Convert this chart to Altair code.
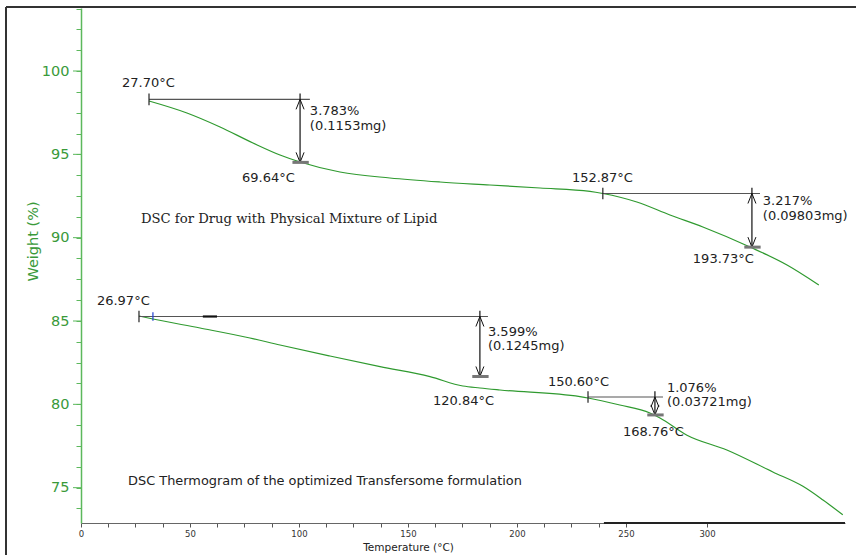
import altair as alt
import pandas as pd

# ---- data (x in plot units along the temperature axis, y = weight %) ----
upper_x = [31.2, 48.6, 63.8, 78.9, 91.3, 100.5, 118.8, 141.7, 164.7, 187.6,
           210.6, 233.5, 239.4, 255.0, 270.2, 285.3, 306.9, 323.9, 338.5]
upper_w = [98.20, 97.48, 96.64, 95.68, 94.96, 94.54, 93.94, 93.58, 93.34, 93.16,
           92.98, 92.78, 92.65, 92.14, 91.36, 90.64, 89.44, 88.36, 87.16]

lower_x = [26.6, 33.0, 54.6, 77.5, 91.3, 114.2, 137.2, 160.1, 175.2, 183.0,
           192.2, 228.9, 232.6, 247.2, 261.0, 265.6, 278.0, 296.3, 317.4,
           331.2, 340.4, 349.5]
lower_w = [85.30, 85.12, 84.58, 83.98, 83.56, 82.90, 82.26, 81.66, 81.10, 80.98,
           80.86, 80.46, 80.38, 79.96, 79.48, 79.18, 78.15, 77.26, 75.94,
           75.08, 74.26, 73.37]

# weight-loss steps: start of baseline, arrow position, level and stated loss
step_start = [31.2, 239.4, 26.6, 232.6]
step_end = [105.0, 311.5, 186.7, 267.0]
step_arrow_x = [100.5, 307.8, 183.0, 263.3]
step_level = [98.30, 92.65, 85.27, 80.44]
step_loss = [3.783, 3.217, 3.599, 1.076]
step_mass = ["(0.1153mg)", "(0.09803mg)", "(0.1245mg)", "(0.03721mg)"]
onset_text = ["27.70°C", "152.87°C", "26.97°C", "150.60°C"]
end_text = ["69.64°C", "193.73°C", "120.84°C", "168.76°C"]

# label anchors (left edge, vertical centre)
onset_pos = [(18.8, 99.28), (225.2, 93.58), (7.3, 86.20), (214.2, 81.34)]
end_pos = [(73.85, 93.58), (280.7, 88.72), (161.5, 80.20), (248.6, 78.34)]
loss_pos = [(105.0, 97.60, 96.72), (312.8, 92.18, 91.30),
            (186.7, 84.36, 83.48), (268.8, 81.00, 80.12)]

captions = ["DSC for Drug with Physical Mixture of Lipid",
            "DSC Thermogram of the optimized Transfersome formulation"]
caption_pos = [(27.5, 91.12), (21.6, 75.40)]

x_ticks = [i * 12.5 for i in range(20)] + [250.0, 287.2]
y_ticks = [73.75 + i * 1.25 for i in range(25)]
y_major = [75, 80, 85, 90, 95, 100]

X_DOMAIN = [0, 350.5]
Y_DOMAIN = [72.88, 103.78]
GREEN = "#2f9a2f"
AXIS_GREEN = "#5cb85c"
LABEL_GREEN = "#3a9a3a"
TXT = "#222222"

# ---- tables ----
curves = pd.concat([
    pd.DataFrame({"t": upper_x, "w": upper_w, "run": "mixture"}),
    pd.DataFrame({"t": lower_x, "w": lower_w, "run": "transfersome"}),
])

steps = pd.DataFrame({
    "x0": step_start, "x1": step_end, "xa": step_arrow_x,
    "level": step_level, "loss": step_loss,
})
steps["bottom"] = steps["level"] - steps["loss"]
steps["shaft_top"] = steps["level"] + 0.35
steps["tick_hi"] = steps["level"] + 0.35
steps["tick_lo"] = steps["level"] - 0.35
steps["seg0"] = steps["xa"] - 3.5
steps["seg1"] = steps["xa"] + 4.0

labels = []
for i in range(4):
    labels.append({"x": onset_pos[i][0], "y": onset_pos[i][1], "text": onset_text[i]})
    labels.append({"x": end_pos[i][0], "y": end_pos[i][1], "text": end_text[i]})
    labels.append({"x": loss_pos[i][0], "y": loss_pos[i][1],
                   "text": f"{step_loss[i]}%"})
    labels.append({"x": loss_pos[i][0], "y": loss_pos[i][2], "text": step_mass[i]})
labels = pd.DataFrame(labels)

cap_df = pd.DataFrame({"x": [p[0] for p in caption_pos],
                       "y": [p[1] for p in caption_pos], "text": captions})

xs = alt.Scale(domain=X_DOMAIN, nice=False, zero=False)
ys = alt.Scale(domain=Y_DOMAIN, nice=False, zero=False)

x_axis = alt.Axis(
    values=x_ticks, tickCount=200,
    labelExpr="datum.value > 280 ? '300' : (datum.value % 50 === 0 ? '' + datum.value : '')",
    title="Temperature (°C)", grid=False, labelOverlap=False, labelFlush=False,
    domainColor="#666666", tickColor="#555555", tickSize=4,
    labelFont="DejaVu Sans", labelFontSize=8.5, labelColor="#333333", labelPadding=2,
    titleFont="DejaVu Sans", titleFontSize=10.5, titleFontWeight="normal",
    titleColor="#222222", titleX=327, titleY=24, titleBaseline="middle",
    titleAnchor="start", titleAlign="center",
)
y_axis = alt.Axis(
    values=y_ticks, tickCount=200,
    labelExpr="datum.value % 5 === 0 ? '' + datum.value : ''",
    tickSize=5,
    title="Weight (%)", grid=False, labelOverlap=False, labelFlush=False,
    domainColor=AXIS_GREEN, tickColor=AXIS_GREEN, domainWidth=1.5,
    labelFont="DejaVu Sans", labelFontSize=14.5, labelColor=LABEL_GREEN, labelPadding=7,
    titleFont="DejaVu Sans", titleFontSize=14.5, titleFontWeight="normal",
    titleColor=LABEL_GREEN, titleX=-48, titleY=233, titleAngle=-90,
    titleAlign="center", titleBaseline="middle", titleAnchor="start",
)


def X(field):
    return alt.X(field, type="quantitative", scale=xs)


def Y(field):
    return alt.Y(field, type="quantitative", scale=ys)


curve_layer = alt.Chart(curves).mark_line(
    color=GREEN, strokeWidth=1.2, interpolate="monotone"
).encode(
    x=alt.X("t", type="quantitative", scale=xs, axis=x_axis),
    y=alt.Y("w", type="quantitative", scale=ys, axis=y_axis),
    detail="run:N", order="t:Q",
)

# longer ticks at the labelled weights
major_ticks = alt.Chart(pd.DataFrame({"w": y_major})).mark_rule(
    color=AXIS_GREEN, strokeWidth=1).encode(
    x=alt.value(-8), x2=alt.value(0), y=Y("w"))

base = alt.Chart(steps)
baseline = base.mark_rule(color="#555555", strokeWidth=1.2).encode(
    x=X("x0"), x2="x1", y=Y("level"))
onset_tick = base.mark_rule(color="#222222", strokeWidth=1.2).encode(
    x=X("x0"), y=Y("tick_hi"), y2="tick_lo")
shaft = base.mark_rule(color="#111111", strokeWidth=1.2).encode(
    x=X("xa"), y=Y("shaft_top"), y2="bottom")
head_up = base.mark_point(shape="M -0.8 2 L 0 0 L 0.8 2", filled=False,
                          color="#111111", strokeWidth=1, size=100, opacity=1).encode(
    x=X("xa"), y=Y("level"))
head_down = base.mark_point(shape="M -0.8 -2 L 0 0 L 0.8 -2", filled=False,
                            color="#111111", strokeWidth=1, size=100, opacity=1).encode(
    x=X("xa"), y=Y("bottom"))
end_seg = base.mark_rule(color="#777777", strokeWidth=3).encode(
    x=X("seg0"), x2="seg1", y=Y("bottom"))

# small cursor marks on the lower baseline
marks_df = pd.DataFrame({"x": [33.0], "y0": [85.02], "y1": [85.52]})
blue_tick = alt.Chart(marks_df).mark_rule(color="#2040d0", strokeWidth=1.2).encode(
    x=X("x"), y=Y("y0"), y2="y1")
dash_df = pd.DataFrame({"x0": [55.9], "x1": [62.4], "y": [85.27]})
black_dash = alt.Chart(dash_df).mark_rule(color="#111111", strokeWidth=2.2).encode(
    x=X("x0"), x2="x1", y=Y("y"))

# darker right portion of the temperature axis line
axis_df = pd.DataFrame({"x0": [239.9], "x1": [X_DOMAIN[1]], "y": [Y_DOMAIN[0]]})
axis_dark = alt.Chart(axis_df).mark_rule(color="#222222", strokeWidth=1.8).encode(
    x=X("x0"), x2="x1", y=Y("y"))

text_layer = alt.Chart(labels).mark_text(
    align="left", baseline="middle", font="DejaVu Sans", fontSize=13, color=TXT
).encode(x=X("x"), y=Y("y"), text="text:N")

cap1 = alt.Chart(cap_df.iloc[[0]]).mark_text(
    align="left", baseline="middle", font="DejaVu Serif", fontSize=13.2, color=TXT
).encode(x=X("x"), y=Y("y"), text="text:N")
cap2 = alt.Chart(cap_df.iloc[[1]]).mark_text(
    align="left", baseline="middle", font="DejaVu Sans", fontSize=12.9, color=TXT
).encode(x=X("x"), y=Y("y"), text="text:N")

# outer frame (left and top edges)
frame_top = alt.Chart(pd.DataFrame({"k": [0]})).mark_rule(
    color="#333333", strokeWidth=2).encode(
    x=alt.value(-75), x2=alt.value(775), y=alt.value(-1))
frame_left = alt.Chart(pd.DataFrame({"k": [0]})).mark_rule(
    color="#333333", strokeWidth=2).encode(
    x=alt.value(-75), y=alt.value(-1), y2=alt.value(547))

chart = alt.layer(
    curve_layer, major_ticks, baseline, onset_tick, shaft, head_up, head_down,
    end_seg, blue_tick, black_dash, axis_dark, text_layer, cap1, cap2,
    frame_top, frame_left,
).properties(
    width=764, height=515,
    autosize=alt.AutoSizeParams(type="none"),
    padding={"left": 81, "top": 8, "right": 11, "bottom": 32},
    background="white",
).configure_view(stroke=None)

chart.save("out.html", embed_options={"renderer": "svg", "actions": False})
